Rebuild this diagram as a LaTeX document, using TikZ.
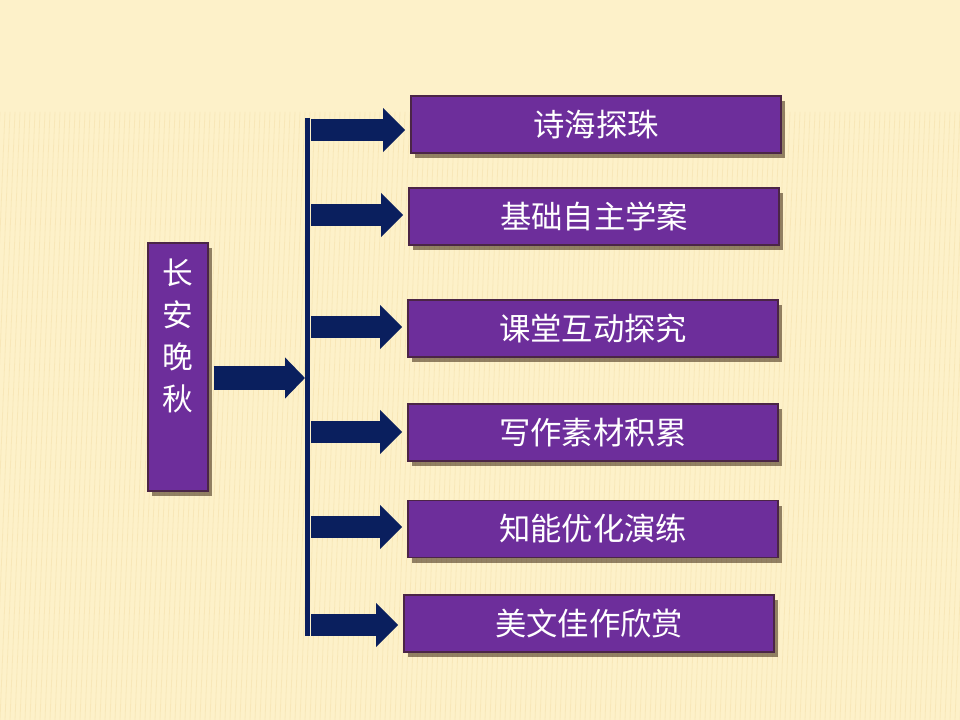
\documentclass[tikz,border=0pt]{standalone}
\usepackage{fontspec}
\newfontfamily\cjk{Noto Sans CJK SC}
\usetikzlibrary{arrows.meta,shadows}
\definecolor{bgcream}{HTML}{FDF1C9}
\definecolor{stripecol}{HTML}{EFD79A}
\definecolor{boxpurple}{HTML}{6D2E9B}
\definecolor{boxedge}{HTML}{4B2546}
\definecolor{arrownavy}{HTML}{0A1F5E}
\definecolor{shadowcol}{HTML}{3A2410}
\tikzset{
  topic/.style={draw=boxedge, line width=0.8pt, fill=boxpurple, text=white,
    font=\cjk\fontsize{23.5}{28}\selectfont, minimum width=277.5pt,
    minimum height=42.75pt, inner sep=0pt,
    drop shadow={shadow xshift=3pt, shadow yshift=-4pt, opacity=0.55,
      fill=shadowcol}},
  titlebox/.style={topic, minimum width=45pt, minimum height=186pt},
  branch/.style={arrownavy, line width=16.5pt,
    -{Triangle[length=16.5pt,width=32pt]}, shorten >=4pt},
  mainarrow/.style={arrownavy, line width=18pt,
    -{Triangle[length=15pt,width=30pt]}, shorten <=3.75pt},
  bar/.style={arrownavy, line width=3.75pt}
}
\begin{document}
\begin{tikzpicture}[x=0.75pt,y=-0.75pt]
\useasboundingbox (0,0) rectangle (960,720);
% background
\fill[bgcream] (0,0) rectangle (960,720);
\foreach \x in {0,5,...,985}
  \draw[stripecol, line width=0.6pt, opacity=0.35] (\x,112) -- (\x-25,720);

% title
\node[titlebox] (title) at (178,367)
  {\parbox[c][186pt][t]{45pt}{\vspace*{12pt}\centering\fontsize{23}{31.5}\selectfont 长\\安\\晚\\秋}};

% topics
\node[topic] (shi)   at (596,124.5) {诗海探珠};
\node[topic] (jichu) at (594,216.5) {基础自主学案};
\node[topic] (ketang) at (593,328.5) {课堂互动探究};
\node[topic] (xiezuo) at (593,432.5) {写作素材积累};
\node[topic] (zhineng) at (593,529) {知能优化演练};
\node[topic] (meiwen) at (589,623.5) {美文佳作欣赏};

% bar and arrows
\coordinate (bartop) at (307.5,118);
\coordinate (barbot) at (307.5,636);
\draw[bar] (bartop) -- (barbot);
\coordinate (hub) at (305,378);
\draw[mainarrow] (hub -| title.east) -- (hub);

\coordinate (a1) at (311,130);
\coordinate (a2) at (311,215);
\coordinate (a3) at (311,327);
\coordinate (a4) at (311,432);
\coordinate (a5) at (311,527);
\coordinate (a6) at (311,625);
\draw[branch] (a1) -- (a1 -| shi.west);
\draw[branch] (a2) -- (a2 -| jichu.west);
\draw[branch] (a3) -- (a3 -| ketang.west);
\draw[branch] (a4) -- (a4 -| xiezuo.west);
\draw[branch] (a5) -- (a5 -| zhineng.west);
\draw[branch] (a6) -- (a6 -| meiwen.west);
\end{tikzpicture}
\end{document}
